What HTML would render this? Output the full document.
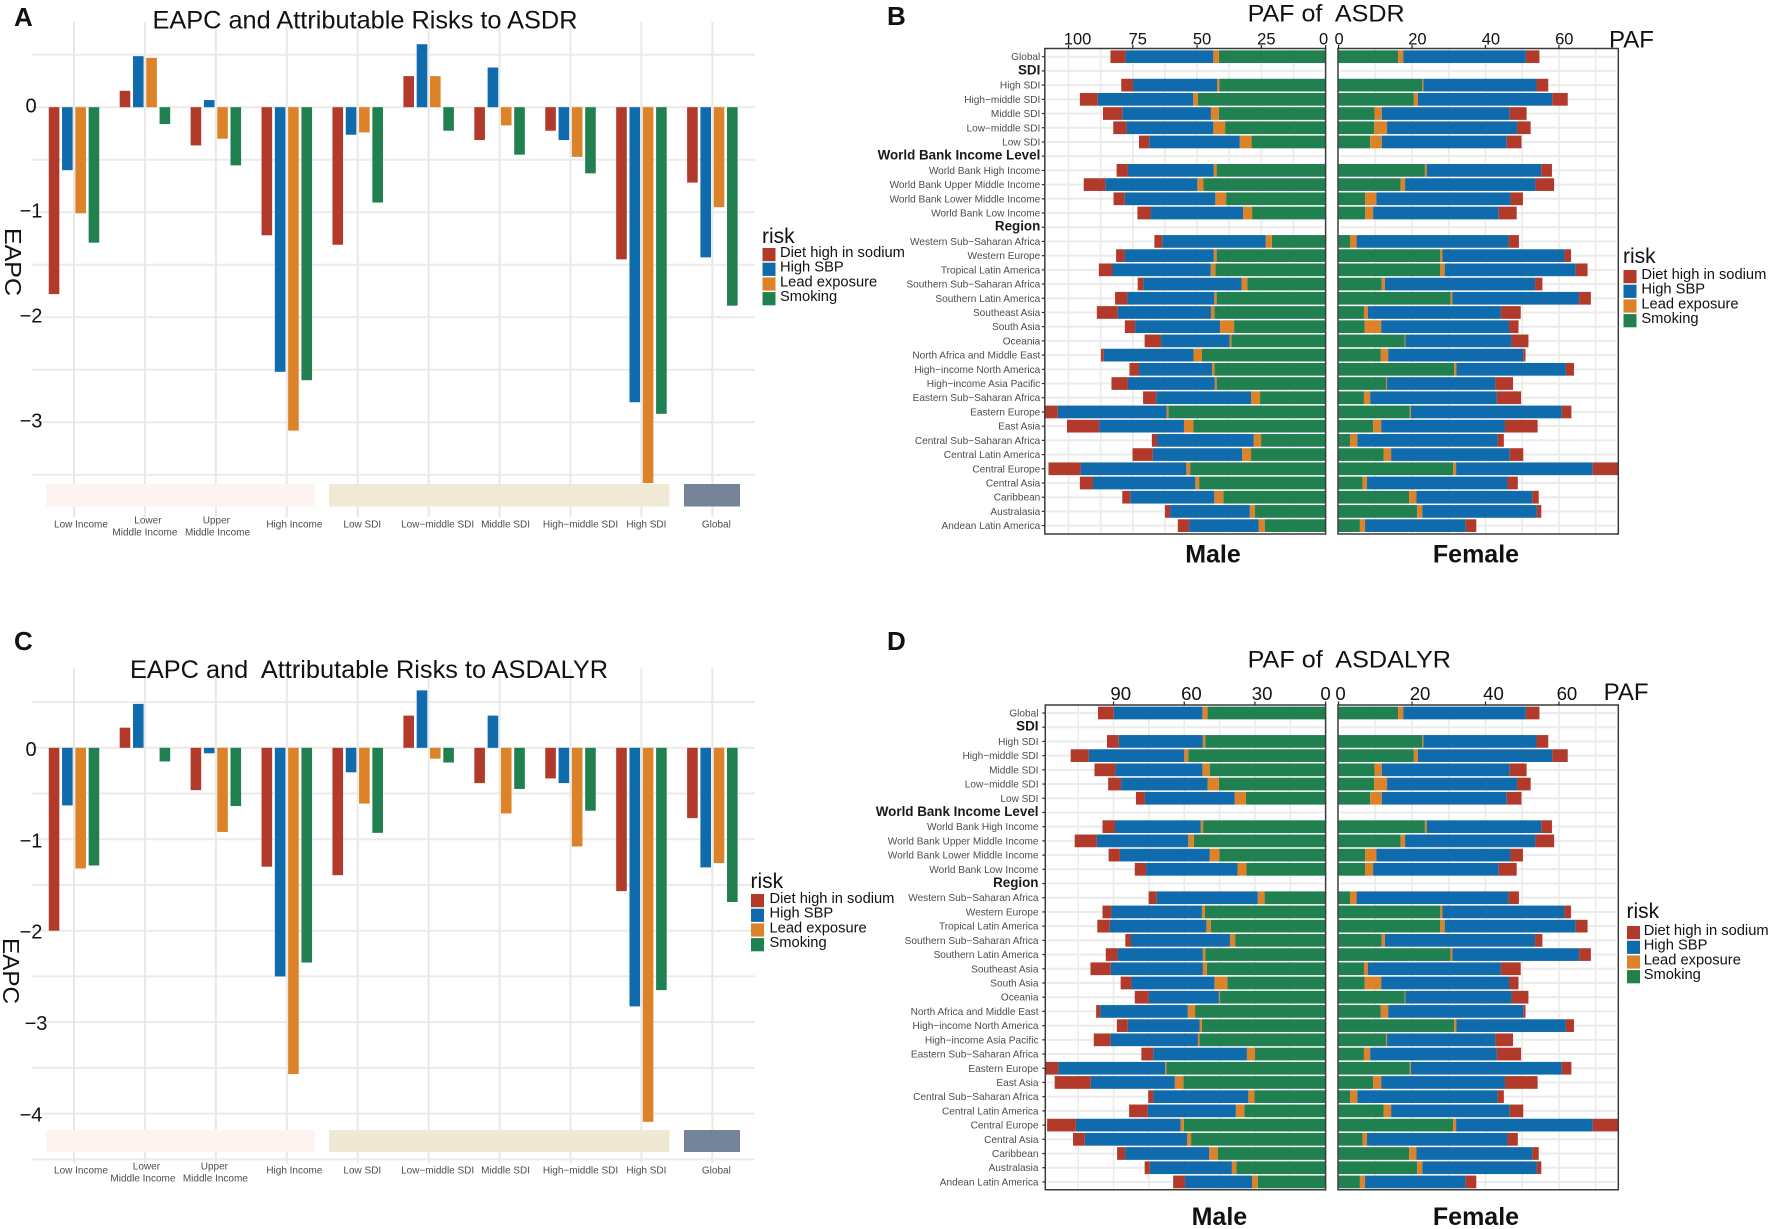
<!DOCTYPE html>
<html>
<head>
<meta charset="utf-8">
<title>EAPC and PAF charts</title>
<style>
html,body{margin:0;padding:0;background:#fff;}
svg{display:block;font-family:"Liberation Sans",Arial,sans-serif;}
text{white-space:pre;}
</style>
</head>
<body>
<svg id="figure" xmlns="http://www.w3.org/2000/svg" width="1772" height="1229" viewBox="0 0 1772 1229">
  <rect x="0" y="0" width="1772" height="1229" fill="#ffffff"/>
  <g id="layer-a"></g>
  <g id="layer-b"></g>
  <g id="layer-c"></g>
  <g id="layer-d"></g>

  <text x="14" y="26" font-size="26" font-weight="bold" fill="#111">A</text>
  <text x="887" y="25" font-size="26" font-weight="bold" fill="#111">B</text>
  <text x="14" y="650" font-size="26" font-weight="bold" fill="#111">C</text>
  <text x="887" y="650" font-size="26" font-weight="bold" fill="#111">D</text>

  <text x="152.5" y="28.5" font-size="25" textLength="425" lengthAdjust="spacingAndGlyphs" fill="#111">EAPC and Attributable Risks to ASDR</text>
  <text x="1247.6" y="21.7" font-size="24.5" textLength="157" lengthAdjust="spacingAndGlyphs" fill="#111">PAF of  ASDR</text>
  <text x="130" y="678" font-size="25" textLength="478" lengthAdjust="spacingAndGlyphs" fill="#111">EAPC and  Attributable Risks to ASDALYR</text>
  <text x="1247.6" y="667.7" font-size="24.5" textLength="203.4" lengthAdjust="spacingAndGlyphs" fill="#111">PAF of  ASDALYR</text>

  <text transform="translate(5,228) rotate(90)" font-size="23" textLength="68" lengthAdjust="spacingAndGlyphs" fill="#111">EAPC</text>
  <text transform="translate(3,938) rotate(90)" font-size="23" textLength="66" lengthAdjust="spacingAndGlyphs" fill="#111">EAPC</text>

  <text x="1609" y="47.7" font-size="24.5" textLength="45" lengthAdjust="spacingAndGlyphs" fill="#111">PAF</text>
  <text x="1603.6" y="700" font-size="24.5" textLength="45" lengthAdjust="spacingAndGlyphs" fill="#111">PAF</text>

  <text x="1213" y="562.7" font-size="25" font-weight="bold" text-anchor="middle" fill="#111">Male</text>
  <text x="1476" y="562.7" font-size="25" font-weight="bold" text-anchor="middle" fill="#111">Female</text>
  <text x="1219.4" y="1225" font-size="25" font-weight="bold" text-anchor="middle" fill="#111">Male</text>
  <text x="1476" y="1225" font-size="25" font-weight="bold" text-anchor="middle" fill="#111">Female</text>
</svg>

<script>
// ---------- shared categories ----------
const riskNames = ['Diet high in sodium', 'High SBP', 'Lead exposure', 'Smoking'];
const riskColors = ['#b23a2b', '#0f6bab', '#dc8229', '#20804f'];
const eapcCategories = ['Low Income', 'Lower\nMiddle Income', 'Upper\nMiddle Income', 'High Income', 'Low SDI', 'Low\u2212middle SDI', 'Middle SDI', 'High\u2212middle SDI', 'High SDI', 'Global'];

// ---------- panel A: EAPC of ASDR ----------
const asdrDiet = [-1.78, 0.156, -0.364, -1.22, -1.31, 0.296, -0.313, -0.224, -1.449, -0.718];
const asdrSbp = [-0.60, 0.486, 0.068, -2.52, -0.262, 0.60, 0.378, -0.313, -2.81, -1.43];
const asdrLead = [-1.01, 0.47, -0.30, -3.08, -0.24, 0.296, -0.173, -0.473, -3.58, -0.952];
const asdrSmoking = [-1.29, -0.16, -0.554, -2.60, -0.908, -0.224, -0.452, -0.63, -2.92, -1.89];
const asdrTicks = [0, -1, -2, -3];
const asdrGridValues = [0.5, 0, -0.5, -1, -1.5, -2, -2.5, -3, -3.5];

// ---------- panel C: EAPC of ASDALYR ----------
const asdalyrDiet = [-2.0, 0.22, -0.463, -1.30, -1.393, 0.352, -0.386, -0.335, -1.567, -0.769];
const asdalyrSbp = [-0.63, 0.48, -0.06, -2.50, -0.268, 0.628, 0.352, -0.386, -2.828, -1.308];
const asdalyrLead = [-1.32, 0, -0.92, -3.567, -0.61, -0.119, -0.718, -1.079, -4.09, -1.261];
const asdalyrSmoking = [-1.287, -0.149, -0.637, -2.348, -0.93, -0.161, -0.45, -0.688, -2.65, -1.686];
const asdalyrTicks = [0, -1, -2, -3, -4];
const asdalyrGridValues = [0.5, 0, -0.5, -1, -1.5, -2, -2.5, -3, -3.5, -4, -4.5];

// ---------- PAF rows ----------
const pafRows = ['Global', 'SDI', 'High SDI', 'High\u2212middle SDI', 'Middle SDI', 'Low\u2212middle SDI', 'Low SDI', 'World Bank Income Level', 'World Bank High Income', 'World Bank Upper Middle Income', 'World Bank Lower Middle Income', 'World Bank Low Income', 'Region', 'Western Sub\u2212Saharan Africa', 'Western Europe', 'Tropical Latin America', 'Southern Sub\u2212Saharan Africa', 'Southern Latin America', 'Southeast Asia', 'South Asia', 'Oceania', 'North Africa and Middle East', 'High\u2212income North America', 'High\u2212income Asia Pacific', 'Eastern Sub\u2212Saharan Africa', 'Eastern Europe', 'East Asia', 'Central Sub\u2212Saharan Africa', 'Central Latin America', 'Central Europe', 'Central Asia', 'Caribbean', 'Australasia', 'Andean Latin America'];
const pafSections = ['SDI', 'World Bank Income Level', 'Region'];

// ---------- panel B male ----------
const asdrMaleSmoking = [41.5,null,41.3,49.7,41.5,39.1,28.8,null,42.4,47.5,38.7,28.6,null,20.9,42.4,42.9,30.5,42.4,43.3,35.6,36.7,48.1,43.3,42.4,25.5,61.1,51.4,25.1,29.0,52.7,49.2,39.8,27.5,23.7];
const asdrMaleLead = [2.2,null,0.9,1.8,3.1,4.6,4.6,null,1.1,2.4,4.2,3.5,null,2.4,1.1,1.8,2.2,0.9,1.3,5.5,0.7,3.3,0.9,0.7,3.5,0.7,3.7,2.9,3.5,1.5,1.5,3.5,2.0,2.4];
const asdrMaleSbp = [34.1,null,32.7,37.1,34.5,33.8,35.2,null,33.4,35.8,35.2,36.0,null,40.2,34.7,38.2,38.2,33.8,36.3,33.0,26.6,34.9,28.4,33.8,36.9,42.4,33.0,37.6,34.7,41.1,39.8,32.7,31.0,27.0];
const asdrMaleDiet = [5.9,null,4.6,7.0,7.5,5.1,4.0,null,4.4,8.4,4.4,5.1,null,3.1,3.3,5.3,2.2,4.8,8.1,4.0,6.4,1.1,3.7,6.4,5.1,5.1,12.5,2.0,7.9,12.5,5.1,3.1,2.0,4.4];

// ---------- panel D male ----------
const asdalyrMaleSmoking = [50.1,null,51.1,58.3,49.2,45.3,33.8,null,52.0,55.9,45.1,33.6,null,25.9,51.3,48.7,38.4,51.1,50.4,41.7,44.8,55.4,52.5,53.5,30.0,67.6,60.4,30.2,34.5,60.2,57.1,45.8,37.9,28.8];
const asdalyrMaleLead = [2.2,null,1.0,1.7,3.1,4.8,4.8,null,1.0,2.4,4.1,3.8,null,2.9,1.2,1.9,2.2,1.0,1.7,5.5,0.5,3.1,1.0,0.7,3.4,0.5,3.6,2.6,3.6,1.4,1.7,3.6,1.9,2.4];
const asdalyrMaleSbp = [37.6,null,35.7,40.5,36.9,36.7,38.1,null,36.4,38.8,38.1,38.8,null,42.9,38.4,41.0,42.0,36.2,39.1,35.2,29.7,37.2,30.5,37.2,39.8,45.3,35.7,40.3,37.4,44.4,43.4,35.7,34.8,28.5];
const asdalyrMaleDiet = [6.7,null,5.0,7.7,8.9,5.5,3.8,null,5.3,9.4,4.8,4.8,null,3.4,3.8,5.3,2.4,5.0,8.6,4.6,6.0,1.7,4.6,7.0,5.0,5.5,15.3,2.2,7.9,12.2,5.0,3.4,2.2,5.0];

// ---------- panels B and D female ----------
const femaleSmoking = [16.2,null,22.8,20.5,9.8,9.7,8.6,null,23.5,16.9,7.2,7.2,null,3.1,27.7,27.7,11.7,30.5,6.9,7.1,18.0,11.5,31.5,12.9,6.9,19.4,9.4,3.1,12.3,31.2,6.5,19.2,21.4,5.8];
const femaleLead = [1.4,null,0.3,1.1,2.0,3.5,3.2,null,0.5,1.2,3.1,2.2,null,1.8,0.6,1.2,0.9,0.5,1.1,4.5,0.2,2.0,0.6,0.3,1.7,0.3,2.2,2.0,2.0,0.8,1.2,2.0,1.4,1.4];
const femaleSbp = [33.4,null,30.8,36.6,34.8,35.4,34.0,null,31.2,35.5,36.5,34.2,null,41.4,33.2,35.7,40.9,34.5,36.2,34.8,28.9,36.8,29.8,29.5,34.5,41.1,33.7,38.2,32.3,37.2,38.3,31.5,31.2,27.4];
const femaleDiet = [3.7,null,3.2,4.2,4.6,3.7,4.0,null,2.9,5.1,3.4,4.9,null,2.8,1.8,3.2,2.0,3.2,5.4,2.6,4.6,0.6,2.2,4.8,6.6,2.6,8.9,1.7,3.7,6.9,2.8,1.8,1.2,2.9];

// ---------- PAF axis ticks ----------
const asdrMaleTicks = [100, 75, 50, 25, 0];
const asdrMaleGrid = [100, 87.5, 75, 62.5, 50, 37.5, 25, 12.5];
const asdalyrMaleTicks = [90, 60, 30, 0];
const asdalyrMaleGrid = [105, 90, 75, 60, 45, 30, 15];
const femaleTicks = [0, 20, 40, 60];
const femaleGrid = [10, 20, 30, 40, 50, 60, 70];

// ---------- helpers ----------
const SVG_NS = 'http://www.w3.org/2000/svg';
function make(parent, tag, attrs, content) {
  const node = document.createElementNS(SVG_NS, tag);
  for (const key in attrs) node.setAttribute(key, attrs[key]);
  if (content !== undefined) node.textContent = content;
  parent.appendChild(node);
  return node;
}
function kebab(str) {
  return String(str).toLowerCase().replace(/[^a-z0-9]+/g, '-').replace(/^-|-$/g, '');
}

// ---------- EAPC grouped bar panel ----------
function drawEapcPanel(cfg) {
  const root = document.getElementById(cfg.layer);
  const yScale = v => cfg.zeroY + (-v) * cfg.unit;
  const xCat = i => 74 + i * 70.93;
  cfg.gridValues.forEach(v => {
    const line = make(root, 'line', {x1: 32, x2: 755, y1: yScale(v), y2: yScale(v), stroke: '#ebebeb', 'stroke-width': 2});
    
    
  });
  eapcCategories.forEach((c, i) => {
    const line = make(root, 'line', {x1: xCat(i), x2: xCat(i), y1: cfg.top, y2: cfg.bottom, stroke: '#e8e8e8', 'stroke-width': 2});
    
    
  });
  cfg.bands.forEach(b => {
    const band = make(root, 'rect', {x: b.x, y: cfg.bandTop, width: b.w, height: cfg.bandHeight, fill: b.fill});
    
    
  });
  cfg.series.forEach((values, s) => {
    values.forEach((v, i) => {
      const y0 = yScale(0);
      const y1 = yScale(v);
      const bar = make(root, 'rect', {
        x: xCat(i) + (s - 1.5) * 13.3 - 5.3,
        y: Math.min(y0, y1),
        width: 10.6,
        height: Math.abs(y1 - y0),
        fill: riskColors[s]
      });
      
      
    });
  });
  cfg.ticks.forEach(t => {
    const label = make(root, 'text', {
      x: cfg.tickX + (cfg.tickNudge[t] || 0),
      y: yScale(t) + cfg.tickBase,
      'font-size': 20,
      'text-anchor': 'middle',
      fill: '#111'
    }, t < 0 ? '\u2212' + Math.abs(t) : String(t));
    
    
  });
  eapcCategories.forEach((c, i) => {
    const lines = c.split('\n');
    lines.forEach((txt, k) => {
      const nudge = lines.length > 1 ? cfg.twoLineNudge[i][k] : cfg.labelNudge[i];
      const y = lines.length > 1 ? cfg.labelY + (k === 0 ? -4 : 8) : cfg.labelY;
      const label = make(root, 'text', {
        x: xCat(i) + nudge,
        y: y + 3.5,
        'font-size': 10,
        'text-anchor': 'middle',
        fill: '#4d4d4d'
      }, txt);
      
      
    });
  });
}

// ---------- diverging PAF panel half ----------
function drawPafSide(root, cfg) {
  const xScale = v => cfg.zero + cfg.dir * v * cfg.unit;
  const yRow = i => cfg.firstRow + i * 14.21;
  pafRows.forEach((r, i) => {
    const line = make(root, 'line', {x1: cfg.left + 2, x2: cfg.right - 2, y1: yRow(i), y2: yRow(i), stroke: '#ebebeb', 'stroke-width': 2});
    
    
  });
  cfg.grid.forEach(v => {
    const line = make(root, 'line', {x1: xScale(v), x2: xScale(v), y1: cfg.top, y2: cfg.bottom, stroke: '#ebebeb', 'stroke-width': 1.6});
    
    
  });
  pafRows.forEach((r, i) => {
    let cumulative = 0;
    cfg.stack.forEach(st => {
      const v = st.values[i];
      if (v === null) return;
      const a = xScale(cumulative);
      const b = xScale(cumulative + v);
      cumulative += v;
      const bar = make(root, 'rect', {
        x: Math.min(a, b),
        y: yRow(i) - 6.35,
        width: Math.abs(b - a),
        height: 12.7,
        fill: riskColors[st.risk]
      });
      
      
    });
  });
  const frame = make(root, 'path', {
    d: 'M' + cfg.left + ' ' + cfg.bottom + 'V' + cfg.top + 'H' + cfg.right + 'V' + cfg.bottom + 'Z',
    fill: 'none',
    stroke: '#3a3a3a',
    'stroke-width': 1.5
  });
  
  
  cfg.ticks.forEach(t => {
    const mark = make(root, 'line', {x1: xScale(t), x2: xScale(t), y1: cfg.top - 3.5, y2: cfg.top, stroke: '#222', 'stroke-width': 1.2});
    
    
    const label = make(root, 'text', {
      x: xScale(t) + (t === 0 ? cfg.zeroNudge : t === 100 ? 9 : cfg.tickNudge),
      y: cfg.tickY,
      'font-size': cfg.tickSize,
      'text-anchor': 'middle',
      fill: '#111'
    }, String(t));
    
    
  });
}
function drawPafLabels(root, cfg) {
  pafRows.forEach((r, i) => {
    const y = cfg.firstRow + i * 14.21;
    const isSection = pafSections.includes(r);
    const tick = make(root, 'line', {x1: cfg.axisX - 3, x2: cfg.axisX, y1: y, y2: y, stroke: '#333', 'stroke-width': 1.2});
    
    
    const label = make(root, 'text', {
      x: cfg.labelX,
      y: y + 3.5,
      'font-size': isSection ? 13.4 : 10.1,
      'font-weight': isSection ? 'bold' : 'normal',
      'text-anchor': 'end',
      fill: isSection ? '#1a1a1a' : '#4d4d4d'
    }, r);
    
    
  });
}

// ---------- legend ----------
function drawLegend(layerId, cfg) {
  const root = document.getElementById(layerId);
  const title = make(root, 'text', {x: cfg.x, y: cfg.titleY, 'font-size': 21, fill: '#111'}, 'risk');
  
  
  riskNames.forEach((name, i) => {
    const swatch = make(root, 'rect', {x: cfg.x + 0.5, y: cfg.swatchY + i * 14.7, width: 13, height: 13.2, fill: riskColors[i]});
    
    
    const text = make(root, 'text', {x: cfg.textX, y: cfg.swatchY + 10 + i * 14.7 - 1, 'font-size': 14.7, fill: '#111'}, name);
    
    
  });
}

// ---------- build ----------
const labelNudgeAll = [7, 0, 0, 7.6, 4.6, 9, 6, 10, 5, 4];
drawEapcPanel({
  layer: 'layer-a', zeroY: 107.2, unit: 105, top: 22, bottom: 517,
  gridValues: asdrGridValues, ticks: asdrTicks, tickX: 31, tickBase: 5.5, tickNudge: {},
  series: [asdrDiet, asdrSbp, asdrLead, asdrSmoking],
  bandTop: 484, bandHeight: 22.5,
  bands: [
    {x: 46, w: 269, fill: '#fdf3f1', name: 'income-group-band'},
    {x: 329, w: 340.5, fill: '#f0e9d5', name: 'sdi-group-band'},
    {x: 684, w: 56, fill: '#76849a', name: 'global-group-band'}
  ],
  labelY: 524, labelNudge: labelNudgeAll,
  twoLineNudge: {1: [3, 0], 2: [0.5, 1.7]}
});
drawEapcPanel({
  layer: 'layer-c', zeroY: 747.8, unit: 91.45, top: 668.5, bottom: 1163,
  gridValues: asdalyrGridValues, ticks: asdalyrTicks, tickX: 31, tickBase: 8, tickNudge: {'-3': 5},
  series: [asdalyrDiet, asdalyrSbp, asdalyrLead, asdalyrSmoking],
  bandTop: 1130, bandHeight: 22,
  bands: [
    {x: 46, w: 269, fill: '#fdf3f1', name: 'income-group-band'},
    {x: 329, w: 340.5, fill: '#efe8d4', name: 'sdi-group-band'},
    {x: 684, w: 56, fill: '#76849a', name: 'global-group-band'}
  ],
  labelY: 1170, labelNudge: labelNudgeAll,
  twoLineNudge: {1: [1.5, -2], 2: [-1.5, -0.5]}
});

const layerB = document.getElementById('layer-b');
drawPafSide(layerB, {
  sideName: 'male', zero: 1325.6, dir: -1, unit: 2.5706, firstRow: 56.7, top: 48.5, bottom: 534,
  left: 1044.8, right: 1325.6, grid: asdrMaleGrid, ticks: asdrMaleTicks, tickY: 44.5, tickSize: 16.5, tickNudge: 5, zeroNudge: -2,
  stack: [{values: asdrMaleSmoking, risk: 3}, {values: asdrMaleLead, risk: 2}, {values: asdrMaleSbp, risk: 1}, {values: asdrMaleDiet, risk: 0}]
});
drawPafSide(layerB, {
  sideName: 'female', zero: 1338.6, dir: 1, unit: 3.672, firstRow: 56.7, top: 48.5, bottom: 534,
  left: 1338, right: 1618.3, grid: femaleGrid, ticks: femaleTicks, tickY: 44.5, tickSize: 16.5, tickNudge: 5.4, zeroNudge: 0.5,
  stack: [{values: femaleSmoking, risk: 3}, {values: femaleLead, risk: 2}, {values: femaleSbp, risk: 1}, {values: femaleDiet, risk: 0}]
});
drawPafLabels(layerB, {firstRow: 56.7, axisX: 1044.8, labelX: 1040.3});

const layerD = document.getElementById('layer-d');
drawPafSide(layerD, {
  sideName: 'male', zero: 1325.6, dir: -1, unit: 2.356, firstRow: 713, top: 705, bottom: 1189.7,
  left: 1045.3, right: 1325.6, grid: asdalyrMaleGrid, ticks: asdalyrMaleTicks, tickY: 700, tickSize: 18.6, tickNudge: 7.2, zeroNudge: 0,
  stack: [{values: asdalyrMaleSmoking, risk: 3}, {values: asdalyrMaleLead, risk: 2}, {values: asdalyrMaleSbp, risk: 1}, {values: asdalyrMaleDiet, risk: 0}]
});
drawPafSide(layerD, {
  sideName: 'female', zero: 1338.6, dir: 1, unit: 3.672, firstRow: 713, top: 705, bottom: 1189.7,
  left: 1338, right: 1618.3, grid: femaleGrid, ticks: femaleTicks, tickY: 700, tickSize: 18.6, tickNudge: 8, zeroNudge: 2,
  stack: [{values: femaleSmoking, risk: 3}, {values: femaleLead, risk: 2}, {values: femaleSbp, risk: 1}, {values: femaleDiet, risk: 0}]
});
drawPafLabels(layerD, {firstRow: 713, axisX: 1045.3, labelX: 1038.5});

drawLegend('layer-a', {x: 762, titleY: 243, swatchY: 248, textX: 780});
drawLegend('layer-b', {x: 1623, titleY: 263, swatchY: 270, textX: 1641.4});
drawLegend('layer-c', {x: 750.5, titleY: 888, swatchY: 894, textX: 769.5});
drawLegend('layer-d', {x: 1626.5, titleY: 918, swatchY: 926, textX: 1643.7});
</script>
</body>
</html>
